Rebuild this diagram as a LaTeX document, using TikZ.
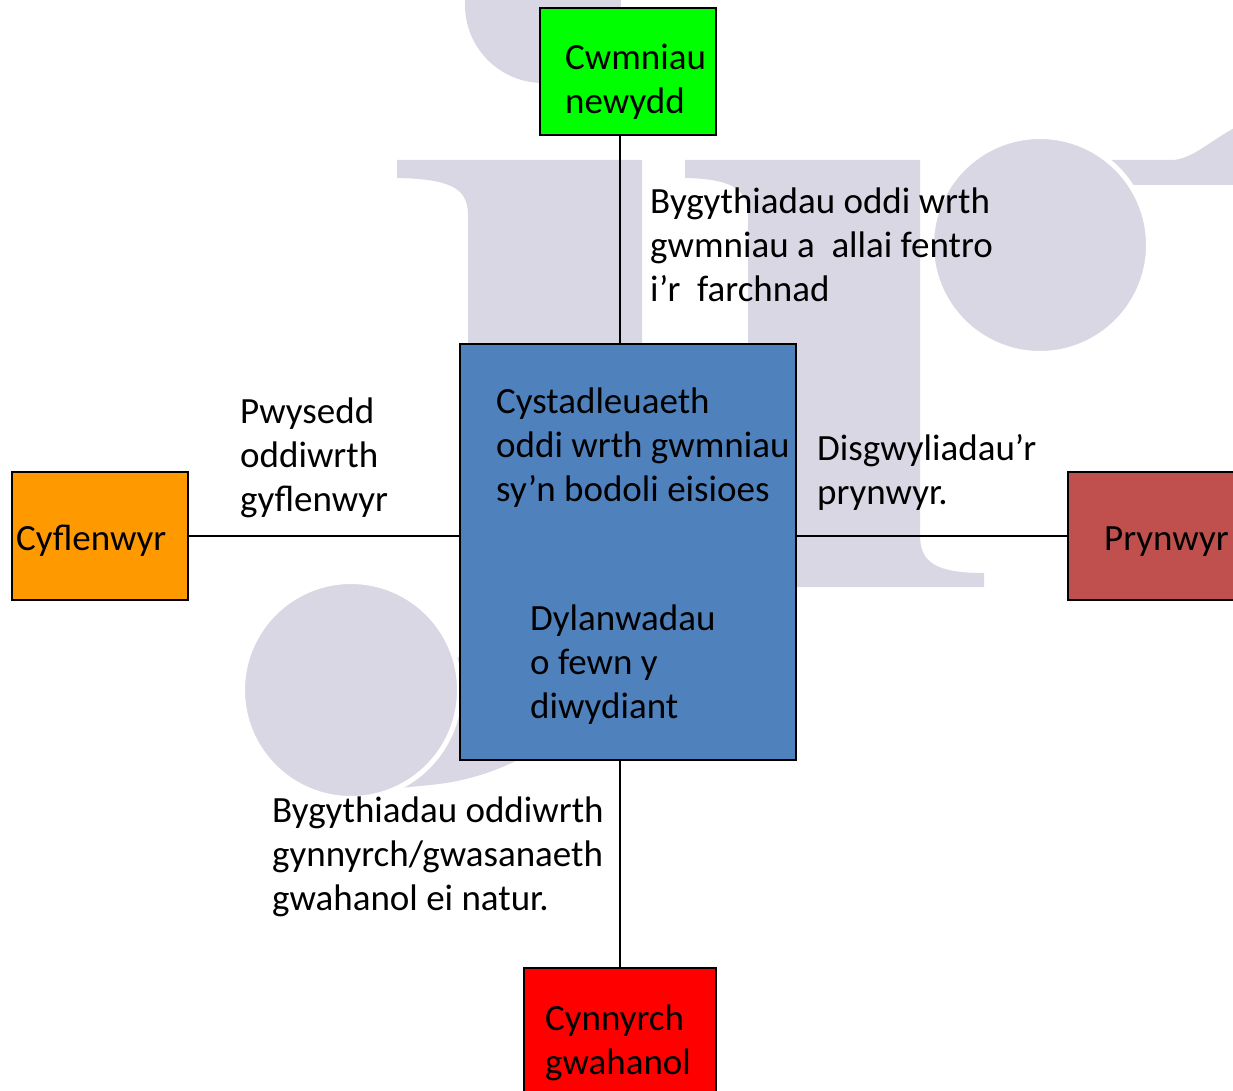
\documentclass[tikz,border=0pt]{standalone}
\usepackage{fontspec}
\setmainfont{Carlito}

\definecolor{newgreen}{HTML}{00FF00}
\definecolor{rivalblue}{HTML}{4F81BD}
\definecolor{supplyorange}{HTML}{FF9900}
\definecolor{buyerred}{HTML}{C0504D}
\definecolor{substred}{HTML}{FF0000}
\definecolor{wmark}{HTML}{D9D7E3}

\tikzset{
  box/.style={draw=black, line width=2.5pt, inner sep=0pt},
  link/.style={draw=black, line width=2pt},
  txt/.style={anchor=base west, inner sep=0pt, align=left, text width=400pt,
    font=\fontsize{37}{44}\selectfont,
    execute at begin node={\spaceskip=\fontdimen2\font\relax}}
}

\begin{document}
\begin{tikzpicture}[x=1pt, y=-1pt]
    \useasboundingbox (0,0) rectangle (1233,1091);

    % Watermark
    \fill[wmark] (543,5) circle (78pt);
    \fill[wmark] (397,160) -- (642,160) -- (642,560)
        .. controls (642,690) and (540,775) .. (430,785)
        -- (380,790) -- (400,700) -- (468,650) -- (468,215)
        .. controls (468,188) and (450,179) .. (397,178) -- cycle;
    \filldraw[wmark, draw=white, line width=5pt] (351,690) circle (108.5pt);
    \fill[wmark] (685,160) -- (920,160) -- (920,535)
        .. controls (920,562) and (935,573) .. (984,573)
        -- (984,587) -- (748,587) -- (748,215)
        .. controls (748,188) and (730,179) .. (685,178) -- cycle;
    \fill[wmark] (1040,160) -- (1173,160)
        .. controls (1195,158) and (1210,140) .. (1240,125)
        -- (1240,185) -- (1040,185) -- cycle;
    \filldraw[wmark, draw=white, line width=5pt] (1040,245) circle (108.5pt);

    % Boxes
    \node[box, fill=newgreen, minimum width=176pt, minimum height=127pt] (newfirms) at (628,71.5) {};
    \node[box, fill=rivalblue, minimum width=336pt, minimum height=416pt] (rivalry) at (628,552) {};
    \node[box, fill=supplyorange, minimum width=176pt, minimum height=128pt] (suppliers) at (100,536) {};
    \node[box, fill=buyerred, minimum width=176pt, minimum height=128pt] (buyers) at (1156,536) {};
    \node[box, fill=substred, minimum width=192pt, minimum height=140pt] (substitutes) at (620,1038) {};

    % Lines
    \draw[link] ([xshift=-8pt]newfirms.south) -- ([xshift=-8pt]rivalry.north);
    \draw[link] (suppliers.east) -- ([yshift=16pt]rivalry.west);
    \draw[link] ([yshift=16pt]rivalry.east) -- (buyers.west);
    \draw[link] ([xshift=-8pt]rivalry.south) -- (substitutes.north);

    % Box labels
    \node[txt] (newfirmstxt) at (565,70) {Cwmniau\\newydd};
    \node[txt] (rivalrytxt) at (496,413) {Cystadleuaeth\\oddi wrth gwmniau\\sy’n bodoli eisioes};
    \node[txt] (industrytxt) at (530,630) {Dylanwadau\\o fewn y\\diwydiant};
    \node[txt] (supplierstxt) at (16,550) {Cyflenwyr};
    \node[txt] (buyerstxt) at (1104,550) {Prynwyr};
    \node[txt] (substitutestxt) at (545,1030) {Cynnyrch\\gwahanol};

    % Side labels
    \node[txt] (entrytxt) at (650,214) {Bygythiadau oddi wrth\\gwmniau a~ allai fentro\\i’r~ farchnad};
    \node[txt] (supplytxt) at (240,423) {Pwysedd\\oddiwrth\\gyflenwyr};
    \node[txt] (buytxt) at (817,460) {Disgwyliadau’r\\prynwyr.};
    \node[txt] (substtxt) at (272,822) {Bygythiadau oddiwrth\\gynnyrch/gwasanaeth\\gwahanol ei natur.};

\end{tikzpicture}
\end{document}
